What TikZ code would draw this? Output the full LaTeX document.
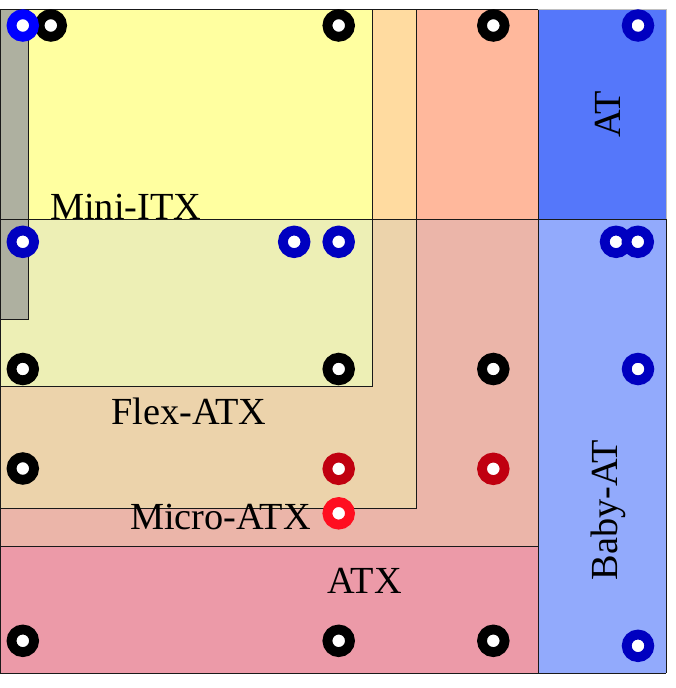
\documentclass[tikz,border=0pt]{standalone}
\usepackage{fontspec}
\setmainfont{Liberation Serif}
\definecolor{cMini}{HTML}{FFFFA0}
\definecolor{cMiniLow}{HTML}{EDEFB5}
\definecolor{cFlexTop}{HTML}{FFDBA0}
\definecolor{cFlexLow}{HTML}{ECD3AB}
\definecolor{cAtxTop}{HTML}{FFB89C}
\definecolor{cMicroLow}{HTML}{EBB5A9}
\definecolor{cAtxLow}{HTML}{EC9AA8}
\definecolor{cAT}{HTML}{5577FA}
\definecolor{cBaby}{HTML}{92AAFC}
\definecolor{cGrey}{HTML}{AEB0A0}
\definecolor{hBlue}{HTML}{0000C0}
\definecolor{hBright}{HTML}{0000FF}
\definecolor{hRed}{HTML}{C00010}
\definecolor{hBrightRed}{HTML}{FF0E20}
\tikzset{
  x=1pt,y=-1pt,
  edge/.style={draw=black!90,line width=1pt},
  hole/.style={circle,draw=#1,line width=9.8pt,fill=white,minimum size=22.6pt,inner sep=0pt},
  lab/.style={font=\fontsize{38.3}{38.3}\selectfont,inner sep=0pt,text=black}
}
\begin{document}
\begin{tikzpicture}
\useasboundingbox (0,0) rectangle (675,688);
% flat colour regions
\fill[cAT] (538,9) rectangle (666,219.3);
\fill[cBaby] (538,219.3) rectangle (666,673.3);
\fill[cAtxTop] (416,9) rectangle (538,219.3);
\fill[cMicroLow] (0,219.3) rectangle (538,546.7);
\fill[cAtxLow] (0,546.7) rectangle (538,673.3);
\fill[cFlexTop] (372,9) rectangle (416,219.3);
\fill[cFlexLow] (0,219.3) rectangle (416,508);
\fill[cMini] (0,9) rectangle (372,219.3);
\fill[cMiniLow] (0,219.3) rectangle (372,386);
\fill[cGrey] (0,9) rectangle (28,319);
% outlines
\draw[edge] (0.5,319) -- (28,319) -- (28,9);
\draw[edge] (0.5,386) -- (372,386) -- (372,9);
\draw[edge] (0.5,508) -- (416,508) -- (416,9);
\draw[edge] (0.5,546.7) -- (538,546.7);
\draw[edge] (0.5,219.3) -- (666,219.3);
\draw[edge] (0.5,9) -- (538,9);
\draw[edge] (0.5,9) -- (0.5,673.3) -- (666,673.3);
\draw[edge] (538,9) -- (538,673.3);
\draw[line width=1pt,draw=black!25] (538,9) -- (666,9) -- (666,219.3);
\draw[edge] (666,219.3) -- (666,673.3);
% mounting holes
\node[hole=black] (h1) at (50.8,25.5) {};
\node[hole=hBright] (h2) at (22.8,25.5) {};
\node[hole=black] (h3) at (338.7,25.5) {};
\node[hole=black] (h4) at (493.3,25.5) {};
\node[hole=hBlue] (h5) at (638,25.5) {};
\node[hole=hBlue] (h6) at (22.8,241.8) {};
\node[hole=hBlue] (h7) at (294.2,241.8) {};
\node[hole=hBlue] (h8) at (338.7,241.8) {};
\node[hole=hBlue] (h9) at (616,241.8) {};
\node[hole=hBlue] (h10) at (637.8,241.8) {};
\node[hole=black] (h11) at (22.8,369) {};
\node[hole=black] (h12) at (338.7,369) {};
\node[hole=black] (h13) at (493.3,369) {};
\node[hole=hBlue] (h14) at (638,369) {};
\node[hole=black] (h15) at (22.8,468.5) {};
\node[hole=hRed] (h16) at (338.7,468.8) {};
\node[hole=hRed] (h17) at (493.3,468.8) {};
\node[hole=hBrightRed] (h18) at (338.7,513.3) {};
\node[hole=black] (h19) at (22.8,640.8) {};
\node[hole=black] (h20) at (338.7,640.8) {};
\node[hole=black] (h21) at (493.3,640.8) {};
\node[hole=hBlue] (h22) at (638,645.8) {};
% labels
\node[lab,anchor=base west] (mini) at (50,219) {Mini-ITX};
\node[lab,anchor=base west] (flex) at (111,424) {Flex-ATX};
\node[lab,anchor=base west] (micro) at (130,529) {Micro-ATX};
\node[lab,anchor=base west] (atx) at (327,593) {ATX};
\node[lab,anchor=base,rotate=90] (at) at (620,114.5) {AT};
\node[lab,anchor=base,rotate=90] (baby) at (617,510) {Baby-AT};
\end{tikzpicture}
\end{document}
